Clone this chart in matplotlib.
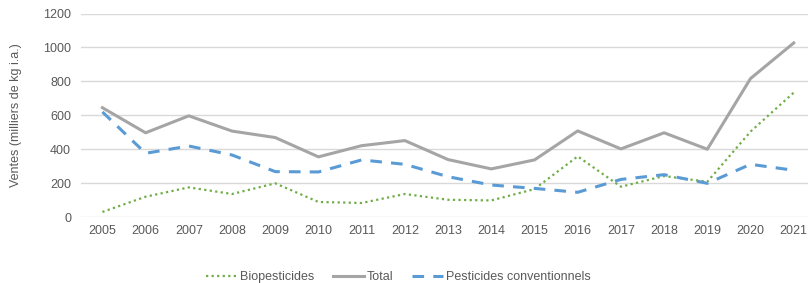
import matplotlib.pyplot as plt

years = [str(y) for y in range(2005, 2022)]
biopesticides = [30, 120, 175, 136, 199, 89, 83, 136, 102, 98, 165, 358, 179, 242, 208, 504, 734]
total = [645, 497, 597, 507, 469, 355, 421, 451, 339, 284, 337, 508, 402, 497, 400, 817, 1027]
conventionnels = [620, 376, 419, 366, 268, 266, 337, 311, 238, 189, 169, 146, 222, 250, 199, 311, 276]
y_ticks = [0, 200, 400, 600, 800, 1000, 1200]

text_color = '#595959'
plt.rcParams['font.family'] = ['Liberation Sans', 'DejaVu Sans']

fig = plt.figure(figsize=(8.08, 2.83), dpi=100)
ax = fig.add_axes([0.1, 0.233, 0.9, 0.719])

x = list(range(len(years)))
ax.plot(x, biopesticides, color='#70AD47', lw=1.6, linestyle=(0, (1, 1.5)),
        label='Biopesticides')
ax.plot(x, total, color='#A5A5A5', lw=2.2, label='Total')
ax.plot(x, conventionnels, color='#5B9BD5', lw=2.2, linestyle=(0, (3.8, 3)),
        label='Pesticides conventionnels')

ax.set_xlim(-0.5, 16.33)
ax.set_ylim(0, 1200)
ax.set_xticks(x)
ax.set_xticklabels(years)
ax.set_yticks(y_ticks)
ax.grid(axis='y', color='#D9D9D9', lw=1)
ax.set_axisbelow(True)
for s in ax.spines.values():
    s.set_visible(False)
ax.tick_params(length=0, labelsize=9, colors=text_color)
ax.tick_params(axis='y', pad=7)
ax.tick_params(axis='x', pad=6)
ax.set_ylabel('Ventes (milliers de kg i.a.)', fontsize=9, color=text_color, labelpad=15)

fig.legend(loc='center', bbox_to_anchor=(0.493, 0.02), ncol=3, frameon=False,
           fontsize=9, labelcolor=text_color, handlelength=2.5, columnspacing=1.5,
           handletextpad=0.2)

plt.savefig('out.png', dpi=100)
